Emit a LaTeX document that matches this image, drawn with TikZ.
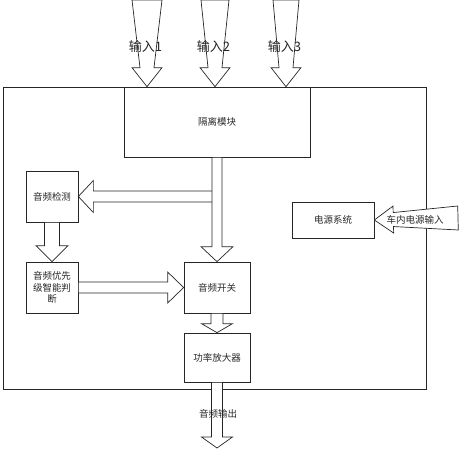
\documentclass[tikz,border=0pt]{standalone}
\usepackage{fontspec}
\setmainfont{Noto Sans CJK SC}
\usetikzlibrary{calc}

\begin{document}
\begin{tikzpicture}[x=1pt, y=-1pt, color=black!85, line width=0.7pt,
  box/.style = {draw, inner sep=0pt, align=center, font=\fontsize{9.5}{11.5}\selectfont},
  blockarrow/.style = {draw, fill=white, line join=miter},
  lab/.style = {font=\fontsize{9.5}{11.5}\selectfont}]
\newcommand{\fatarrow}[6]{%
  \coordinate (h) at ($(#2)!#6!(#1)$);
  \draw[blockarrow] ($(#1)!#3!90:(#2)$) -- ($(h)!#4!-90:(#1)$) -- ($(h)!#5!-90:(#1)$) -- (#2)
    -- ($(h)!#5!90:(#1)$) -- ($(h)!#4!90:(#1)$) -- ($(#1)!#3!-90:(#2)$) -- cycle;}
\useasboundingbox (0,0) rectangle (461,450);
\node[draw, inner sep=0pt, minimum width=423pt, minimum height=302pt] (frame) at (214.5,238) {};
\node[box, minimum width=186pt, minimum height=70pt] (iso) at (217,122) {隔离模块};
\node[box, minimum width=52pt, minimum height=51pt] (det) at (52,196.5) {音频检测};
\node[box, minimum width=52pt, minimum height=51pt] (pri) at (52,287.5) {音频优先\\级智能判\\断};
\node[box, minimum width=66pt, minimum height=51pt] (sw) at (217,287.5) {音频开关};
\node[box, minimum width=66pt, minimum height=49pt] (amp) at (217,357.5) {功率放大器};
\node[box, minimum width=82pt, minimum height=36pt] (pwr) at (333,220) {电源系统};
\foreach \i/\x/\w in {1/147/15pt,2/215/14pt,3/286/13pt} {
  \coordinate (in\i) at (\x,0);
  \coordinate (top\i) at (in\i |- iso.north);
  \fatarrow{in\i}{top\i}{\w}{7pt}{15pt}{19pt}
  \node[font=\fontsize{13}{15}\selectfont] (lin\i) at (\x-1.5,47) {输入\i};
}
\coordinate (tap) at (iso.south |- det.east);
\fatarrow{tap}{det.east}{5.5pt}{5.5pt}{16pt}{15pt}
\fatarrow{iso.south}{sw.north}{5pt}{5pt}{16pt}{15pt}
\fatarrow{det.south}{pri.north}{7.5pt}{7.5pt}{16pt}{16pt}
\fatarrow{pri.east}{sw.west}{5.5pt}{5.5pt}{15.5pt}{16pt}
\fatarrow{sw.south}{amp.north}{6pt}{6pt}{15.5pt}{9pt}
\coordinate (out) at (217,448);
\fatarrow{amp.south}{out}{5.5pt}{5.5pt}{15.5pt}{11pt}
\coordinate (car) at (458,218);
\fatarrow{car}{pwr.east}{12pt}{7pt}{13.5pt}{19pt}
\node[lab] (lout) at (218,414) {音频输出};
\node[lab] (lcar) at (415,220) {车内电源输入};
\end{tikzpicture}
\end{document}
